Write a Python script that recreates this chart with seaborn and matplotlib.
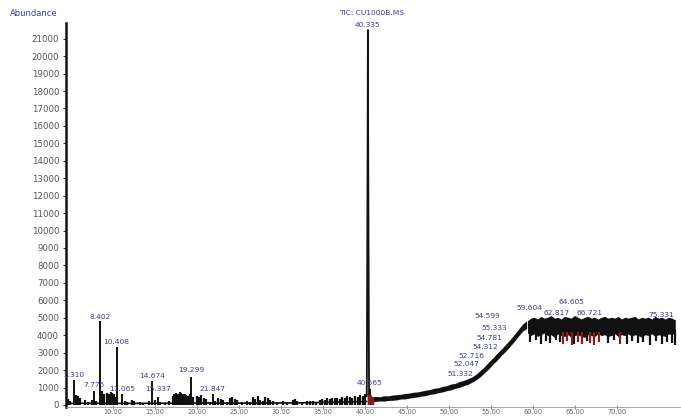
import matplotlib
matplotlib.use("Agg")
import matplotlib.pyplot as plt
import seaborn as sns

sns.set_theme(style="white")
plt.rcParams["font.family"] = ["DejaVu Sans"]

# ---- axes ----
x_ticks = [10, 15, 20, 25, 30, 35, 40, 45, 50, 55, 60, 65, 70]
y_ticks = list(range(0, 22000, 1000))
title_text = "TIC: CU1000B.MS"

# ---- baseline before the drift (time min, abundance) ----
baseline_t = [4.4, 8.0, 12.0, 16.0, 20.0, 24.0, 28.0, 32.0, 36.0, 40.2]
baseline_a = [90, 100, 90, 100, 110, 100, 110, 120, 150, 200]

# small unlabelled spikes on the early baseline (time, abundance)
early_spikes = [
    (4.6, 350), (4.9, 250), (5.6, 560), (5.8, 520), (6.0, 400),
    (6.6, 300), (7.0, 150), (7.5, 300), (8.0, 200), (8.7, 800),
    (8.9, 650), (9.3, 700), (9.5, 600), (9.7, 720), (9.9, 680),
    (10.1, 600), (10.3, 450), (11.4, 200), (11.7, 150), (12.2, 300),
    (12.5, 200), (13.2, 150), (13.6, 100), (14.3, 250), (15.0, 300),
    (15.6, 150), (16.2, 120), (16.6, 200), (17.1, 500), (17.3, 650),
    (17.5, 700), (17.7, 600), (17.9, 750), (18.1, 700), (18.3, 650),
    (18.5, 600), (18.7, 550), (18.9, 500), (19.1, 600), (19.5, 450),
    (20.0, 500), (20.2, 450), (20.5, 550), (20.8, 400), (21.1, 350),
    (21.5, 150), (22.1, 200), (22.5, 400), (22.8, 350), (23.1, 300),
    (23.5, 150), (23.9, 400), (24.2, 450), (24.5, 350), (24.7, 300),
    (25.3, 150), (25.9, 200), (26.3, 150), (26.6, 450), (26.9, 350),
    (27.2, 500), (27.5, 300), (27.8, 250), (28.1, 450), (28.4, 400),
    (28.7, 300), (29.0, 250), (29.5, 150), (30.2, 200), (30.7, 150),
    (31.4, 300), (31.6, 350), (31.9, 250), (32.5, 150), (33.1, 200),
    (33.4, 250), (33.8, 200), (34.2, 180), (34.6, 300), (34.9, 350),
    (35.2, 300), (35.5, 400), (35.8, 350), (36.1, 400), (36.4, 380),
    (36.7, 420), (37.0, 350), (37.3, 450), (37.6, 400), (37.9, 500),
    (38.2, 450), (38.5, 400), (38.8, 500), (39.1, 450), (39.4, 550),
    (39.7, 500), (40.0, 600),
]

# labelled peaks of the early part (retention time, apex abundance)
peak_rt = [5.310, 7.775, 8.402, 10.408, 11.065, 14.674, 15.337, 19.299, 21.847, 40.565]
peak_abund = [1450, 800, 4800, 3350, 600, 1400, 450, 1600, 650, 900]
peak_label_y = [1720, 1150, 5050, 3600, 920, 1660, 920, 2000, 920, 1260]

# main peak profile
main_rt = 40.335
main_t = [40.20, 40.30, 40.335, 40.37, 40.47]
main_a = [500, 14800, 21500, 14800, 600]
main_label_y = 21780

# column-bleed drift after the main peak: band edges
drift_t = [40.8, 41.3, 41.8, 42.3, 42.8, 43.3, 43.8, 44.3, 44.8, 45.3,
           45.8, 46.3, 46.8, 47.3, 47.8, 48.3, 48.8, 49.3, 49.8, 50.3,
           50.8, 51.3, 51.8, 52.3, 52.8, 53.3, 53.8, 54.3, 54.8, 55.3,
           55.8, 56.3, 56.8, 57.3, 57.8, 58.3, 58.8, 59.3]
drift_lo = [180, 170, 200, 190, 230, 240, 260, 310, 320, 360,
            400, 430, 480, 510, 580, 610, 680, 720, 790, 840,
            930, 980, 1080, 1150, 1280, 1420, 1600, 1830, 2050, 2320,
            2550, 2820, 3050, 3320, 3600, 3900, 4200, 4350]
drift_hi = [420, 460, 440, 500, 490, 540, 560, 580, 630, 650,
            700, 720, 770, 820, 860, 930, 960, 1040, 1080, 1170,
            1210, 1320, 1380, 1480, 1580, 1750, 1960, 2180, 2450, 2680,
            2950, 3180, 3450, 3700, 4000, 4300, 4600, 4800]
red_base_t = [40.30, 40.5, 40.7, 40.9, 41.1]
red_base_a = [650, 550, 600, 450, 300]

# plateau band at the end of the run
plateau_t = [59.4, 59.8, 60.2, 60.6, 61.0, 61.4, 61.8, 62.2, 62.6, 63.0,
             63.4, 63.8, 64.2, 64.6, 65.0, 65.4, 65.8, 66.2, 66.6, 67.0,
             67.4, 67.8, 68.2, 68.6, 69.0, 69.4, 69.8, 70.2, 70.6, 71.0,
             71.4, 71.8, 72.2, 72.6, 73.0, 73.4, 73.8, 74.2, 74.6, 75.0,
             75.4, 75.8, 76.2, 76.6, 77.0]
plateau_hi = [4800, 4950, 5000, 4900, 5050, 4950, 5000, 5100, 4950, 5000,
              4900, 5050, 5000, 4950, 5100, 5000, 4900, 5000, 5050, 4950,
              5000, 4900, 5000, 5050, 4950, 5000, 4950, 5050, 4900, 5000,
              4950, 5000, 5050, 4900, 5000, 4950, 5000, 4900, 5050, 4950,
              5000, 4900, 5000, 4950, 4850]
plateau_lo = [4100, 3950, 4050, 3900, 4000, 4100, 3950, 4000, 3850, 4050,
              3950, 3900, 4000, 3850, 3950, 4000, 3900, 3850, 4000, 3950,
              3900, 4050, 3950, 4000, 3900, 3950, 4050, 3900, 4000, 3950,
              4050, 3900, 4000, 3950, 3850, 4000, 3950, 4050, 3900, 4000,
              3950, 3900, 4050, 4000, 4150]
plateau_dips = [
    (59.6, 3600), (60.3, 3700), (60.9, 3500), (61.5, 3650), (62.0, 3550),
    (62.7, 3700), (63.2, 3600), (64.9, 3500), (66.4, 3650), (68.9, 3550),
    (69.6, 3700), (71.2, 3500), (71.8, 3650), (72.5, 3550), (73.1, 3600),
    (73.9, 3450), (74.6, 3650), (75.3, 3500), (75.9, 3600), (76.5, 3550),
    (76.9, 3450),
]
plateau_red_dips = [
    (63.6, 3500), (64.1, 3650), (64.6, 3450), (65.3, 3600), (65.8, 3500),
    (66.8, 3550), (67.3, 3450), (67.8, 3600), (70.3, 3500),
]

# labels over the drift and plateau
drift_rt = [51.332, 52.047, 52.716, 54.312, 54.781, 55.333, 54.599,
            59.604, 62.817, 64.605, 66.721, 75.331]
drift_label_y = [1800, 2320, 2820, 3320, 3840, 4400, 5100,
                 5560, 5280, 5900, 5280, 5160]

# ---- figure ----
trace = "#111111"
red = "#8b1c1c"
label_col = "#3c3c96"

fig = plt.figure(figsize=(6.81, 4.17), dpi=100)
ax = fig.add_axes([0.0969, 0.0247, 0.9016, 0.9201])

sns.lineplot(x=baseline_t, y=baseline_a, ax=ax, color=trace, lw=1.2,
             estimator=None, sort=False)
ax.vlines([t for t, _ in early_spikes], 0, [a for _, a in early_spikes],
          color=trace, lw=1.6)
ax.vlines(peak_rt, 0, peak_abund, color=trace, lw=1.4)

ax.fill_between(drift_t, drift_lo, drift_hi, facecolor=trace,
                edgecolor="none", linewidth=0)
ax.fill_between(red_base_t, 0, red_base_a, facecolor=red,
                edgecolor="none", linewidth=0, zorder=3)

ax.fill_between(plateau_t, plateau_lo, plateau_hi, facecolor=trace,
                edgecolor="none", linewidth=0)
ax.vlines([t for t, _ in plateau_dips], [a for _, a in plateau_dips],
          4300, color=trace, lw=1.6)
ax.vlines([t for t, _ in plateau_red_dips], [a for _, a in plateau_red_dips],
          4200, color=red, lw=1.6, zorder=3)

sns.lineplot(x=main_t, y=main_a, ax=ax, color=trace, lw=1.3,
             estimator=None, sort=False)

fs = 5.4
for rt, ly in zip(peak_rt, peak_label_y):
    ax.text(rt, ly, f"{rt:.3f}", ha="center", va="center", fontsize=fs,
            color=label_col, zorder=5)
for rt, ly in zip(drift_rt, drift_label_y):
    ax.text(rt, ly, f"{rt:.3f}", ha="center", va="center", fontsize=fs,
            color=label_col, zorder=5)
ax.text(main_rt, main_label_y, f"{main_rt:.3f}", ha="center", va="center",
        fontsize=fs, color=label_col, zorder=5)

fig.text(372 / 681, 1 - 13 / 417, title_text, ha="center", va="center",
         fontsize=fs, color=label_col)
fig.text(10 / 681, 1 - 14 / 417, "Abundance", ha="left", va="center",
         fontsize=6, color=label_col)

ax.set_xlim(4.38, 77.5)
ax.set_ylim(-100, 21900)
ax.set_xticks(x_ticks)
ax.set_xticklabels([f"{v:.2f}" for v in x_ticks])
ax.set_yticks(y_ticks)
ax.set_yticklabels([str(v) for v in y_ticks])
ax.set_xlabel("")
ax.set_ylabel("")
ax.tick_params(axis="y", length=2, width=0.8, pad=3, labelsize=6.2,
               labelcolor="#555555", color="#333333", left=True)
ax.tick_params(axis="x", length=3, width=0.6, pad=0.3, labelsize=4.8,
               labelcolor="#666666", color="#777777", bottom=True,
               direction="inout")
ax.minorticks_on()
ax.xaxis.set_minor_locator(matplotlib.ticker.MultipleLocator(1.25))
ax.yaxis.set_minor_locator(matplotlib.ticker.NullLocator())
ax.tick_params(axis="x", which="minor", length=2, width=0.5,
               color="#888888", direction="inout")
for side in ("top", "right"):
    ax.spines[side].set_visible(False)
ax.spines["left"].set_color("#111111")
ax.spines["left"].set_linewidth(1.8)
ax.spines["bottom"].set_color("#999999")
ax.spines["bottom"].set_linewidth(0.6)
ax.grid(False)

fig.savefig("out.png", dpi=100)
